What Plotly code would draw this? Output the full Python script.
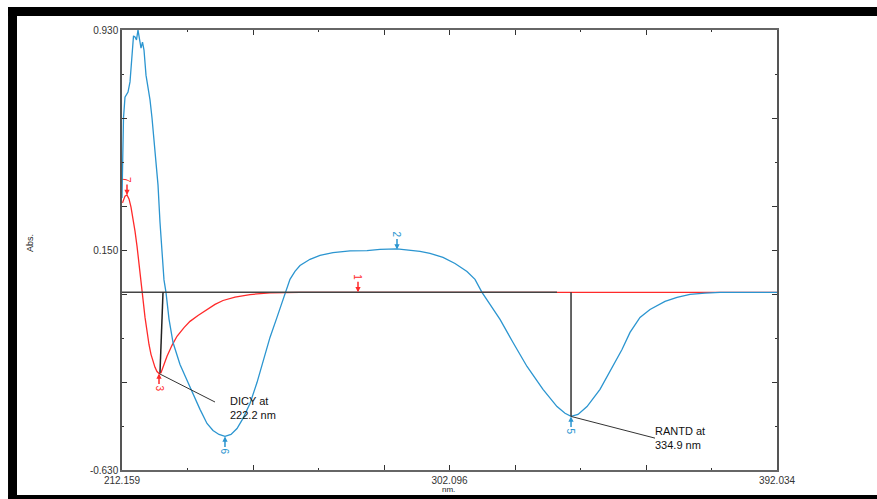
import plotly.graph_objects as go

# ---------------- data ----------------
X_MIN, X_MAX = 212.159, 392.034
Y_MIN, Y_MAX = -0.630, 0.930

blue_x = [212.16, 212.30, 212.57, 212.98, 213.81, 214.36, 214.90, 215.32, 215.73, 216.14, 216.55,
          216.96, 217.38, 217.79, 218.20, 218.75, 219.30, 219.85, 220.40, 220.95, 221.50, 222.05,
          222.59, 223.14, 223.69, 224.24, 225.07, 226.17, 228.09, 230.01, 231.93, 233.58, 235.50,
          237.15, 238.80, 240.44, 242.09, 243.74, 245.39, 247.31, 249.23, 250.88, 252.80, 254.72,
          256.37, 256.92, 258.29, 259.66, 261.04, 263.79, 266.53, 270.10, 274.77, 279.44, 283.01,
          287.68, 291.25, 294.00, 296.74, 300.31, 303.61, 306.90, 309.10, 311.02, 313.22, 315.97,
          319.54, 323.38, 327.77, 331.62, 333.82, 335.47, 337.39, 339.86, 343.43, 347.00, 349.47,
          351.67, 354.41, 357.16, 361.28, 364.58, 368.15, 372.27, 376.39, 381.88, 392.03]
blue_y = [0.334, 0.458, 0.618, 0.692, 0.710, 0.746, 0.859, 0.909, 0.905, 0.895, 0.930,
          0.902, 0.866, 0.887, 0.859, 0.770, 0.724, 0.682, 0.618, 0.540, 0.469, 0.380,
          0.249, 0.132, 0.044, 0.000, -0.095, -0.178, -0.256, -0.312, -0.369, -0.415, -0.465,
          -0.490, -0.504, -0.511, -0.504, -0.483, -0.447, -0.394, -0.320, -0.249, -0.160, -0.089,
          -0.025, 0.000, 0.046, 0.074, 0.095, 0.117, 0.131, 0.141, 0.147, 0.148, 0.152,
          0.154, 0.150, 0.145, 0.138, 0.124, 0.102, 0.074, 0.046, 0.000, -0.043, -0.096,
          -0.178, -0.263, -0.344, -0.405, -0.429, -0.440, -0.433, -0.405, -0.344, -0.263, -0.203,
          -0.142, -0.089, -0.061, -0.032, -0.018, -0.007, -0.003, 0.000, 0.000, 0.000]

red_x = [212.30, 212.98, 213.53, 214.08, 214.63, 215.18, 215.73, 216.28, 216.83, 217.38, 217.93,
         218.48, 219.02, 219.57, 220.12, 220.67, 221.22, 221.77, 222.32, 222.87, 223.42, 224.52,
         225.89, 227.26, 229.19, 230.83, 233.03, 235.50, 237.70, 239.90, 243.19, 247.31, 252.80,
         261.04, 392.03]
red_y = [0.317, 0.341, 0.345, 0.331, 0.302, 0.263, 0.217, 0.164, 0.107, 0.044, -0.025,
         -0.089, -0.142, -0.185, -0.220, -0.245, -0.266, -0.281, -0.288, -0.285, -0.266, -0.227,
         -0.188, -0.156, -0.125, -0.103, -0.082, -0.061, -0.043, -0.029, -0.017, -0.008, -0.002,
         0.000, 0.000]

# peak markers
peak_x = [276.97, 287.68, 222.32, 335.47, 213.53, 240.44]
peak_y = [0.000, 0.152, -0.288, -0.440, 0.345, -0.511]
peak_label = ["1", "2", "3", "5", "7", "6"]
peak_series = ["red", "blue", "red", "blue", "red", "blue"]
peak_above = [True, True, False, False, True, False]

# baseline and drop lines
base_x = [212.159, 331.62]
base_y = [0.0, 0.0]
drop1_x = [223.42, 222.59]
drop1_y = [0.0, -0.285]
drop2_x = [335.47, 335.47]
drop2_y = [0.0, -0.440]

# callouts
callout_text = ["DICY at<br>222.2 nm", "RANTD at<br>334.9 nm"]
callout_from_x = [222.32, 335.47]
callout_from_y = [-0.288, -0.440]
callout_to_x = [237.70, 358.53]
callout_to_y = [-0.389, -0.517]
callout_text_x = [241.27, 357.98]
callout_text_y = [-0.410, -0.517]

# ticks
x_step = (X_MAX - X_MIN) / 10
y_step = (Y_MAX - Y_MIN) / 10
x_major_idx = [0, 2, 4, 5, 6, 8, 10]
y_major_idx = [0, 2, 4, 5, 6, 8, 10]
x_label_vals = {0: "212.159", 5: "302.096", 10: "392.034"}
y_label_vals = {0: "-0.630", 5: "0.150", 10: "0.930"}

BLUE = "#2b95d0"
RED = "#ff2a2a"
colors = {"blue": BLUE, "red": RED}

fig = go.Figure()
fig.add_trace(go.Scatter(x=red_x, y=red_y, mode="lines", line=dict(color=RED, width=1.3), hoverinfo="skip"))
fig.add_trace(go.Scatter(x=blue_x, y=blue_y, mode="lines", line=dict(color=BLUE, width=1.3), hoverinfo="skip"))
fig.add_trace(go.Scatter(x=base_x, y=base_y, mode="lines", line=dict(color="#444444", width=1.5), hoverinfo="skip"))
fig.add_trace(go.Scatter(x=drop1_x, y=drop1_y, mode="lines", line=dict(color="#222222", width=1.5), hoverinfo="skip"))
fig.add_trace(go.Scatter(x=drop2_x, y=drop2_y, mode="lines", line=dict(color="#333333", width=1.5), hoverinfo="skip"))
for fx, fy, tx, ty in zip(callout_from_x, callout_from_y, callout_to_x, callout_to_y):
    fig.add_trace(go.Scatter(x=[fx, tx], y=[fy, ty], mode="lines", line=dict(color="#333333", width=1),
                             hoverinfo="skip"))

annotations = []
for px_, py_, lab, ser, above in zip(peak_x, peak_y, peak_label, peak_series, peak_above):
    c = colors[ser]
    annotations.append(dict(x=px_, y=py_, xref="x", yref="y", text=lab, textangle=90,
                            showarrow=True, arrowhead=2, arrowsize=0.7, arrowwidth=1.5,
                            arrowcolor=c, ax=0, ay=-15 if above else 15, standoff=0,
                            font=dict(family="Liberation Sans", size=10, color=c)))
for t, tx, ty in zip(callout_text, callout_text_x, callout_text_y):
    annotations.append(dict(x=tx, y=ty, xref="x", yref="y", text=t, showarrow=False,
                            xanchor="left", yanchor="middle", align="left",
                            font=dict(family="Liberation Sans", size=11, color="#111111")))
annotations.append(dict(x=0.4992, y=-0.0435, xref="paper", yref="paper", text="nm.", showarrow=False,
                        xanchor="center", yanchor="middle",
                        font=dict(family="Liberation Sans", size=8, color="#222222")))
annotations.append(dict(x=-0.1405, y=0.516, xref="paper", yref="paper", text="Abs.", showarrow=False,
                        textangle=-90, xanchor="center", yanchor="middle",
                        font=dict(family="Liberation Sans", size=9, color="#222222")))

# black frame bars (paper coords relative to the plot area)
shapes = [
    dict(type="rect", xref="paper", yref="paper", x0=-0.174, x1=-0.1603, y0=-0.0659, y1=1.0523,
         fillcolor="black", line=dict(width=0), layer="above"),
    dict(type="rect", xref="paper", yref="paper", x0=-0.174, x1=1.16, y0=1.0318, y1=1.0523,
         fillcolor="black", line=dict(width=0), layer="above"),
    dict(type="rect", xref="paper", yref="paper", x0=-0.174, x1=1.16, y0=-0.0659, y1=-0.0568,
         fillcolor="black", line=dict(width=0), layer="above"),
]

x_major = [X_MIN + i * x_step for i in x_major_idx]
x_minor = [X_MIN + i * x_step for i in range(11) if i not in x_major_idx]
y_major = [Y_MIN + i * y_step for i in y_major_idx]
y_minor = [Y_MIN + i * y_step for i in range(11) if i not in y_major_idx]

tickfont = dict(family="Liberation Sans", size=10, color="#333333")
fig.update_layout(
    width=877, height=499,
    margin=dict(l=122, r=100, t=30, b=29),
    paper_bgcolor="white", plot_bgcolor="white",
    showlegend=False,
    annotations=annotations,
    shapes=shapes,
    xaxis=dict(range=[X_MIN, X_MAX], showgrid=False, zeroline=False, showline=True, mirror="ticks",
               linecolor="#666666", linewidth=1.5, ticks="inside", ticklen=5, tickwidth=1.2,
               tickcolor="#333333",
               tickvals=x_major, ticktext=[x_label_vals.get(i, "") for i in x_major_idx],
               tickfont=tickfont, ticklabelstandoff=0,
               minor=dict(tickvals=x_minor, ticks="inside", ticklen=2, tickcolor="#333333")),
    yaxis=dict(range=[Y_MIN, Y_MAX], showgrid=False, zeroline=False, showline=True, mirror="ticks",
               linecolor="#555555", linewidth=1.5, ticks="inside", ticklen=5, tickwidth=1.2,
               tickcolor="#333333",
               tickvals=y_major, ticktext=[y_label_vals.get(i, "") for i in y_major_idx],
               tickfont=tickfont,
               minor=dict(tickvals=y_minor, ticks="inside", ticklen=2, tickcolor="#333333")),
)

fig.write_html("out.html")
